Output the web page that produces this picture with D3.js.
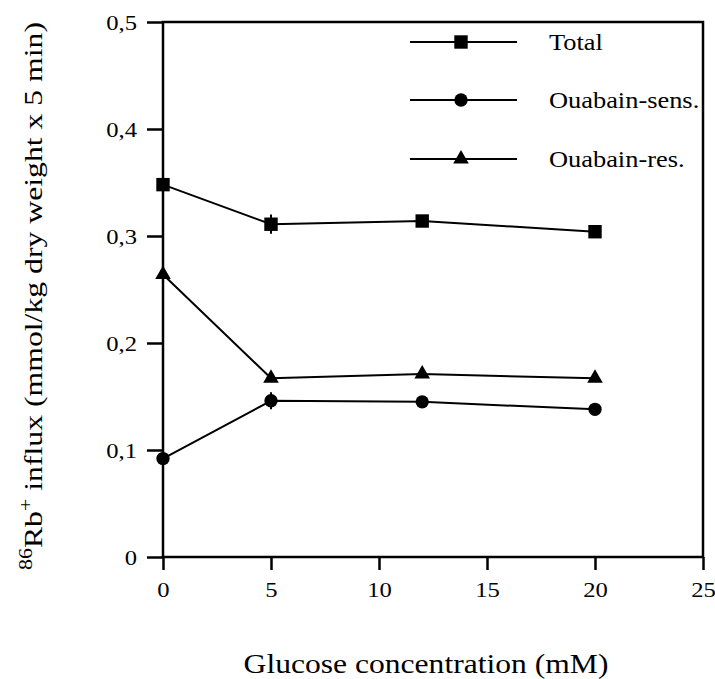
<!DOCTYPE html>
<html>
<head>
<meta charset="utf-8">
<script src="https://cdn.jsdelivr.net/npm/d3@7"></script>
</head>
<body style="margin:0;background:#fff">
<svg id="chart" width="715" height="679" style="font-family:Times, serif"></svg>
<script>
const glucose = [0, 5, 12, 20]
const total = [0.348, 0.311, 0.314, 0.304]
const ouabainSens = [0.092, 0.146, 0.145, 0.138]
const ouabainRes = [0.264, 0.167, 0.171, 0.167]
const totalErr = [0, 0.009, 0, 0]
const sensErr = [0, 0.008, 0, 0]
const resErr = [0, 0, 0, 0]
const xTicks = [0, 5, 10, 15, 20, 25]
const yTicks = [0, 0.1, 0.2, 0.3, 0.4, 0.5]

const FONT = 'Times, serif'
const STRETCH = 1.12   // the scanned type is a bit wider than Liberation Serif

const series = [
    {name: 'Total', values: total, err: totalErr, symbol: d3.symbolSquare, size: 180},
    {name: 'Ouabain-sens.', values: ouabainSens, err: sensErr, symbol: d3.symbolCircle, size: 140},
    {name: 'Ouabain-res.', values: ouabainRes, err: resErr, symbol: d3.symbolTriangle, size: 105}
]

const m = {left: 163, top: 22, right: 703, bottom: 557}
const svg = d3.select('#chart')

const x = d3.scaleLinear().domain([0, 25]).range([m.left, m.right])
const y = d3.scaleLinear().domain([0, 0.5]).range([m.bottom, m.top])

const fmt = d => d === 0 ? '0' : d3.format('.1f')(d).replace('.', ',')

// stretch a text horizontally around its own anchor
const widen = (sel, k) => sel.each(function () {
    const t = d3.select(this)
    const tx = +t.attr('x') || 0
    t.attr('x', 0).attr('transform', `translate(${tx},0) scale(${k},1)`)
})

// frame
svg.append('rect')
    .attr('x', m.left).attr('y', m.top)
    .attr('width', m.right - m.left).attr('height', m.bottom - m.top)
    .attr('fill', 'none').attr('stroke', '#000').attr('stroke-width', 2.5)

// x axis
const xAxis = svg.append('g')
    .attr('transform', `translate(0,${m.bottom})`)
    .call(d3.axisBottom(x).tickValues(xTicks).tickSize(13).tickPadding(11).tickFormat(d3.format('d')))
xAxis.attr('font-family', null)
xAxis.select('.domain').remove()
xAxis.selectAll('line').attr('stroke-width', 2.5)
xAxis.selectAll('text').attr('font-size', 22).style('font-family', FONT).call(widen, STRETCH)

// y axis
const yAxis = svg.append('g')
    .attr('transform', `translate(${m.left},0)`)
    .call(d3.axisLeft(y).tickValues(yTicks).tickSize(16).tickPadding(10).tickFormat(fmt))
yAxis.attr('font-family', null)
yAxis.select('.domain').remove()
yAxis.selectAll('line').attr('stroke-width', 2.5)
yAxis.selectAll('text').attr('font-size', 22).style('font-family', FONT).call(widen, STRETCH)

// titles, fitted to the width they take in the figure
const fit = (sel, target) => {
    const w = sel.node().getComputedTextLength()
    return target / w
}

const xt = svg.append('text')
    .attr('text-anchor', 'middle')
    .attr('font-size', 27)
    .style('font-family', FONT)
    .text('Glucose concentration (mM)')
xt.attr('transform', `translate(426,673) scale(${fit(xt, 365)},1)`)

const yt = svg.append('text')
    .attr('text-anchor', 'middle')
    .attr('font-size', 26)
    .style('font-family', FONT)
yt.append('tspan').attr('font-size', 18).attr('dy', -10).text('86')
yt.append('tspan').attr('dy', 10).text('Rb')
yt.append('tspan').attr('font-size', 18).attr('dy', -10).text('+')
yt.append('tspan').attr('dy', 10).text(' influx (mmol/kg dry weight x 5 min)')
yt.attr('transform', `translate(42,296) rotate(-90) scale(${fit(yt, 548)},1)`)

const line = d3.line()
    .x(d => x(d.x))
    .y(d => y(d.y))

series.forEach(s => {
    const pts = glucose.map((g, i) => ({x: g, y: s.values[i], e: s.err[i]}))
    const g = svg.append('g')
    g.append('path')
        .datum(pts)
        .attr('d', line)
        .attr('fill', 'none').attr('stroke', '#000').attr('stroke-width', 2)
    g.selectAll('.err')
        .data(pts.filter(p => p.e > 0))
        .join('line')
        .attr('x1', d => x(d.x)).attr('x2', d => x(d.x))
        .attr('y1', d => y(d.y - d.e)).attr('y2', d => y(d.y + d.e))
        .attr('stroke', '#000').attr('stroke-width', 2)
    g.selectAll('.pt')
        .data(pts)
        .join('path')
        .attr('transform', d => `translate(${x(d.x)},${y(d.y)})`)
        .attr('d', d3.symbol(s.symbol, s.size))
        .attr('fill', '#000')
})

// legend
const legY = [42, 100, 159]
series.forEach((s, i) => {
    const g = svg.append('g').attr('transform', `translate(0,${legY[i]})`)
    g.append('line')
        .attr('x1', 410).attr('x2', 517)
        .attr('stroke', '#000').attr('stroke-width', 2)
    g.append('path')
        .attr('transform', 'translate(461,0)')
        .attr('d', d3.symbol(s.symbol, s.size))
        .attr('fill', '#000')
    g.append('text')
        .attr('x', 549).attr('y', 8)
        .attr('font-size', 24)
        .style('font-family', FONT)
        .text(s.name)
        .call(widen, 1.1)
})
</script>
</body>
</html>
